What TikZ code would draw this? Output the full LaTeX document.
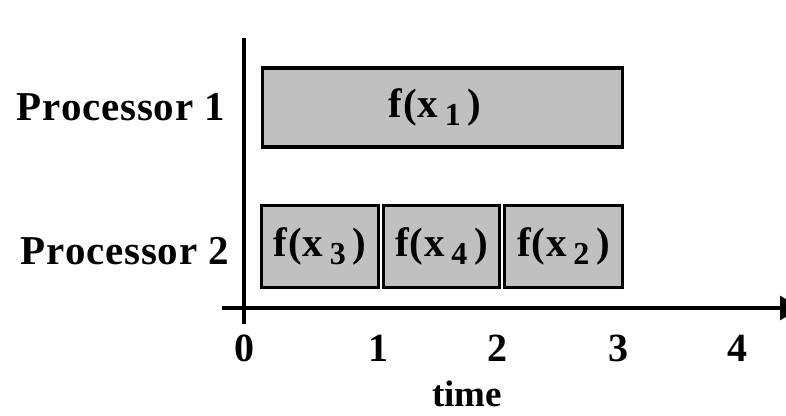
\documentclass[tikz,border=0pt]{standalone}
\usepackage{fontspec}
\setmainfont{Liberation Serif}
\newfontfamily\lblfont[LetterSpace=2]{Liberation Serif}
\usetikzlibrary{arrows.meta}
\definecolor{boxgray}{HTML}{C0C0C0}
\newcommand{\sbs}[1]{\,\raisebox{-8pt}{\fontsize{32}{34}\selectfont #1}\,}
\begin{document}
\begin{tikzpicture}[x=1pt,y=-1pt,
  task/.style={draw=black,line width=3.5pt,fill=boxgray,inner sep=0pt},
  lbl/.style={font=\fontsize{41}{44}\lblfont\bfseries},
  tick/.style={font=\fontsize{40}{44}\selectfont\bfseries},
  axis/.style={line width=3.5pt}]
\useasboundingbox (0,0) rectangle (786,415);
% axes
\coordinate (vtop) at (244,38);
\coordinate (vbot) at (244,324);
\coordinate (hl) at (222,308);
\coordinate (hr) at (800,308);
\draw[axis] (vtop) -- (vbot);
\draw[axis,-{Triangle[length=20pt,width=24pt]}] (hl) -- (hr);
% tasks
\node[task,minimum width=360pt,minimum height=79pt] (t1) at (442.5,107.5) {};
\node[lbl] (t1l) at (435,107) {f(x\sbs{1})};
\node[task,minimum width=117pt,minimum height=82pt] (t3) at (320,246.5) {};
\node[lbl] (t3l) at (320,246) {f(x\sbs{3})};
\node[task,minimum width=116pt,minimum height=82pt] (t4) at (441.5,246.5) {};
\node[lbl] (t4l) at (441.5,246) {f(x\sbs{4})};
\node[task,minimum width=118pt,minimum height=82pt] (t2) at (563.5,246.5) {};
\node[lbl] (t2l) at (563.5,246) {f(x\sbs{2})};
% labels
\node[lbl] (p1) at (121,107) {Processor 1};
\node[lbl] (p2) at (125,251) {Processor 2};
\node[tick] (n0) at (244,348) {0};
\node[tick] (n1) at (378,348) {1};
\node[tick] (n2) at (497,348) {2};
\node[tick] (n3) at (618,348) {3};
\node[tick] (n4) at (737,348) {4};
\node[tick,font=\fontsize{37}{40}\selectfont\bfseries,inner sep=0pt] (time) at (467,394) {time};
\end{tikzpicture}
\end{document}
